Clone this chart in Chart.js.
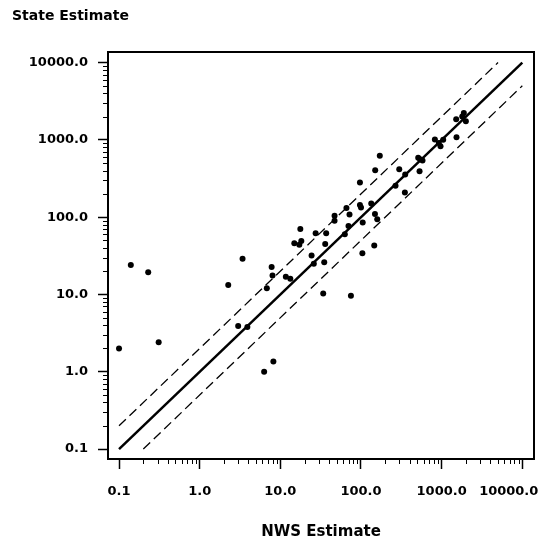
<!DOCTYPE html>
<html>
<head>
<meta charset="utf-8">
<script src="https://cdn.jsdelivr.net/npm/chart.js@4/dist/chart.umd.min.js"></script>
<style>
  body { margin: 0; background: #fff; }
</style>
</head>
<body>
<canvas id="theChart" width="541" height="542"></canvas>
<script>
// NWS vs state estimates
var nwsEstimate = [0.10, 0.14, 0.23, 0.31, 2.26, 3.4, 3.0, 3.9, 6.3, 8.2, 6.8, 7.8, 8.0, 11.7, 13.3,
    14.9, 17.2, 18.2, 17.7, 24.4, 27.4, 26, 34, 35, 36, 37, 47, 47, 63, 70, 66, 72, 75, 97, 97, 100,
    105, 104, 134, 146, 149, 159, 150, 171, 268, 298, 350, 353, 512, 532, 579, 540, 824, 923, 968,
    1045, 1514, 1528, 1884, 1995, 1800];
var stateEstimate = [2.0, 24, 19.4, 2.4, 13.2, 29, 3.9, 3.8, 1.0, 1.36, 12, 22.7, 17.6, 17, 16,
    46, 44, 49, 70, 32, 62, 25, 10.3, 26, 45, 62, 104, 90, 60, 77, 131, 108, 9.6, 280, 144, 133,
    85, 34, 150, 43, 110, 94, 405, 621, 254, 417, 208, 356, 585, 393, 540, 560, 1009, 914, 828,
    1000, 1849, 1081, 2234, 1742, 2000];

// reference lines: y = x, y = 2x, y = x/2
var equalX = [0.1, 10000];
var equalY = [0.1, 10000];
var doubleX = [0.1, 5000];
var doubleY = [0.2, 10000];
var halfX = [0.2, 10000];
var halfY = [0.1, 5000];

var majorTicks = [0.1, 1, 10, 100, 1000, 10000];
var tickLabels = ['0.1', '1.0', '10.0', '100.0', '1000.0', '10000.0'];

function toPoints(xs, ys) {
    var pts = [];
    for (let i = 0; i < xs.length; i++) {
        pts.push({ x: xs[i], y: ys[i] });
    }
    return pts;
}

function labelFor(value, isX) {
    var idx = majorTicks.findIndex(function (t) { return Math.abs(Math.log10(t) - Math.log10(value)) < 1e-6; });
    if (idx < 0) return '';
    // last x label is pushed left so it fits inside the page
    if (isX && idx === majorTicks.length - 1) return tickLabels[idx] + '      ';
    return tickLabels[idx];
}

// frame round the plot and the short minor ticks
var framePlugin = {
    id: 'frame',
    afterDraw: function (chart) {
        var ctx = chart.ctx;
        var a = chart.chartArea;
        var xs = chart.scales.x;
        var ys = chart.scales.y;
        ctx.save();
        ctx.strokeStyle = '#000';
        ctx.lineWidth = 1;
        ctx.beginPath();
        for (let d = 0; d < majorTicks.length - 1; d++) {
            for (let m = 2; m < 10; m++) {
                var v = majorTicks[d] * m;
                var px = Math.round(xs.getPixelForValue(v)) + 0.5;
                ctx.moveTo(px, a.bottom);
                ctx.lineTo(px, a.bottom + 5);
                var py = Math.round(ys.getPixelForValue(v)) + 0.5;
                ctx.moveTo(a.left, py);
                ctx.lineTo(a.left - 5, py);
            }
        }
        ctx.stroke();
        ctx.lineWidth = 2;
        ctx.strokeRect(a.left, a.top, a.right - a.left, a.bottom - a.top);
        ctx.restore();
    }
};

var tickFont = { family: 'DejaVu Sans', weight: 'bold', size: 13 };

new Chart(document.getElementById('theChart'), {
    type: 'scatter',
    data: {
        datasets: [
            {
                data: toPoints(nwsEstimate, stateEstimate),
                backgroundColor: '#000',
                borderWidth: 0,
                pointRadius: 3
            },
            {
                data: toPoints(equalX, equalY),
                showLine: true,
                borderColor: '#000',
                borderWidth: 2.5,
                pointRadius: 0
            },
            {
                data: toPoints(doubleX, doubleY),
                showLine: true,
                borderColor: '#000',
                borderWidth: 1.3,
                borderDash: [9.5, 5],
                pointRadius: 0
            },
            {
                data: toPoints(halfX, halfY),
                showLine: true,
                borderColor: '#000',
                borderWidth: 1.3,
                borderDash: [9.5, 5],
                pointRadius: 0
            }
        ]
    },
    options: {
        responsive: false,
        animation: false,
        layout: { padding: { left: 12, right: 7, top: 0, bottom: 0 } },
        plugins: {
            legend: { display: false },
            tooltip: { enabled: false },
            title: {
                display: true,
                text: 'State Estimate',
                align: 'start',
                color: '#000',
                font: { family: 'DejaVu Sans', weight: 'bold', size: 14, lineHeight: 1.2 },
                padding: { top: 8.3, bottom: 26.9 }
            }
        },
        scales: {
            x: {
                type: 'logarithmic',
                min: 0.073,
                max: 13960,
                border: { display: false },
                grid: { drawOnChartArea: false, tickLength: 10, tickColor: '#000', tickWidth: 1.5 },
                afterBuildTicks: function (s) {
                    s.ticks = majorTicks.map(function (v) { return { value: v }; });
                },
                ticks: {
                    autoSkip: false,
                    maxRotation: 0,
                    color: '#000',
                    font: tickFont,
                    padding: 15,
                    callback: function (value) { return labelFor(value, true); }
                },
                title: {
                    display: true,
                    text: 'NWS Estimate',
                    color: '#000',
                    font: { family: 'DejaVu Sans', weight: 'bold', size: 15, lineHeight: 1.2 },
                    padding: { top: 0, bottom: 0.5 }
                },
                afterFit: function (s) {
                    s.height = 83;
                    s.paddingLeft = 0;
                    s.paddingRight = 0;
                }
            },
            y: {
                type: 'logarithmic',
                min: 0.0743,
                max: 13700,
                border: { display: false },
                grid: { drawOnChartArea: false, tickLength: 10, tickColor: '#000', tickWidth: 1.5 },
                afterBuildTicks: function (s) {
                    s.ticks = majorTicks.map(function (v) { return { value: v }; });
                },
                ticks: {
                    autoSkip: false,
                    color: '#000',
                    font: tickFont,
                    padding: 10,
                    callback: function (value) { return labelFor(value, false); }
                },
                afterFit: function (s) {
                    s.width = 96;
                    s.paddingTop = 0;
                    s.paddingBottom = 0;
                }
            }
        }
    },
    plugins: [framePlugin]
});
</script>
</body>
</html>
